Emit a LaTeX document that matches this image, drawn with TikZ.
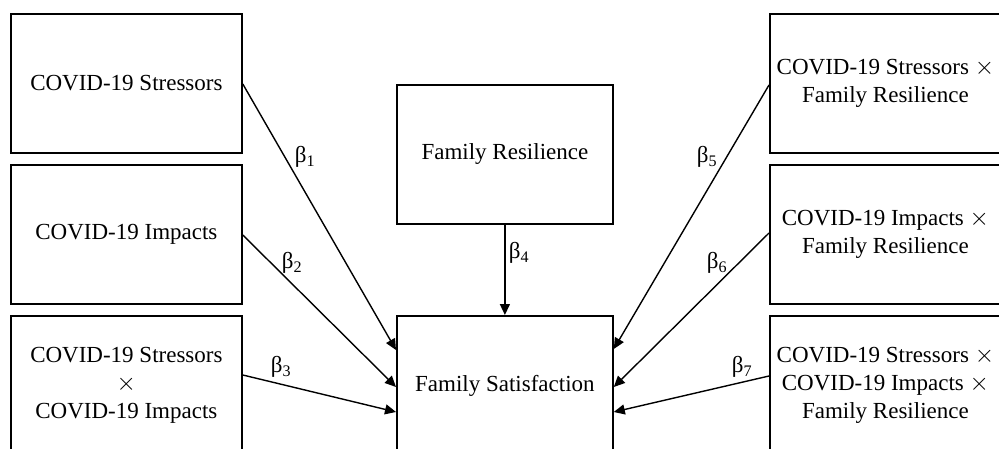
\documentclass[tikz,border=0pt]{standalone}
\usepackage{fontspec}
\setmainfont{Liberation Serif}
\usetikzlibrary{arrows.meta,calc}
\begin{document}
\begin{tikzpicture}[x=1pt,y=-1pt,
  varbox/.style={draw,line width=1.8pt,minimum width=231pt,minimum height=139pt,
    anchor=north west,inner sep=0pt,align=center,
    font=\fontsize{23}{28}\selectfont},
  path/.style={line width=1.4pt,-{Triangle[length=11pt,width=10pt]}},
  coef/.style={inner sep=0pt,font=\fontsize{23}{26}\selectfont}]
\useasboundingbox (0,0) rectangle (999,449);
\clip (0,0) rectangle (999,449);
\fill[white] (0,0) rectangle (999,449);

% predictors on the left
\node[varbox] (str) at (10,13) {COVID-19 Stressors};
\node[varbox] (imp) at (10,164) {COVID-19 Impacts};
\node[varbox] (si)  at (10,315) {COVID-19 Stressors\\$\times$\\COVID-19 Impacts};

% moderator and outcome
\node[varbox,minimum width=216pt] (res) at (396,84) {Family Resilience};
\node[varbox,minimum width=216pt] (sat) at (396,315) {Family Satisfaction};

% interaction terms on the right
\node[varbox] (sr)  at (769,13) {COVID-19 Stressors $\times$\\Family Resilience};
\node[varbox] (ir)  at (769,164) {COVID-19 Impacts $\times$\\Family Resilience};
\node[varbox] (sir) at (769,315) {COVID-19 Stressors $\times$\\COVID-19 Impacts $\times$\\Family Resilience};

% paths
\draw[path] ($(str.north east)+(0,71)$) -- ($(sat.north west)+(0,35)$);
\draw[path] ($(imp.north east)+(0,71)$) -- ($(sat.north west)+(0,72)$);
\draw[path] ($(si.north east)+(0,60)$)  -- ($(sat.north west)+(0,97)$);
\draw[path] (res.south) -- (sat.north);
\draw[path] ($(sr.north west)+(0,72)$)  -- ($(sat.north east)+(0,34)$);
\draw[path] ($(ir.north west)+(0,69)$)  -- ($(sat.north east)+(0,72)$);
\draw[path] ($(sir.north west)+(0,61)$) -- ($(sat.north east)+(0,97)$);

% path coefficients
\node[coef] (b1) at (305,157) {β\textsubscript{1}};
\node[coef] (b2) at (292,263) {β\textsubscript{2}};
\node[coef] (b3) at (281,367) {β\textsubscript{3}};
\node[coef] (b4) at (519,253) {β\textsubscript{4}};
\node[coef] (b5) at (707,157) {β\textsubscript{5}};
\node[coef] (b6) at (717,263) {β\textsubscript{6}};
\node[coef] (b7) at (742,367) {β\textsubscript{7}};
\end{tikzpicture}
\end{document}
